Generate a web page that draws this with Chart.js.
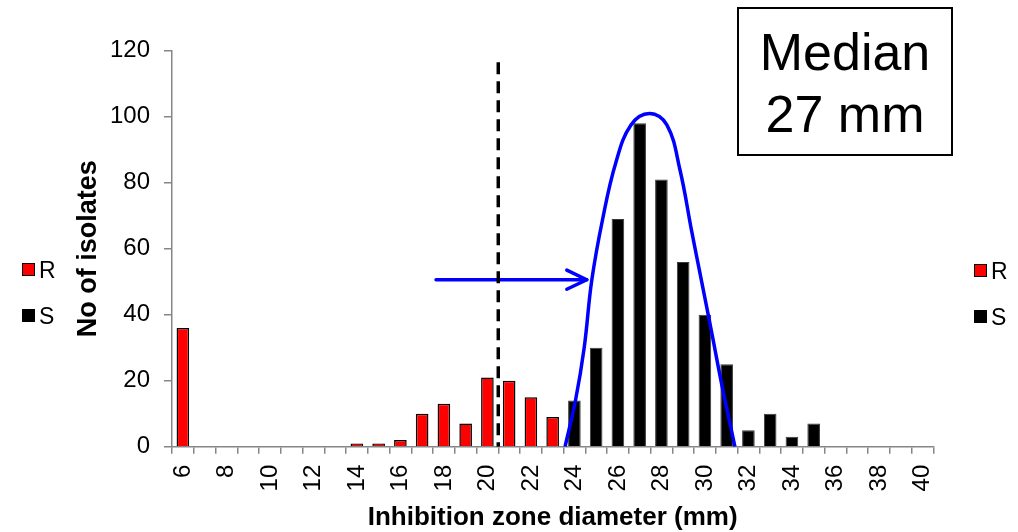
<!DOCTYPE html>
<html><head><meta charset="utf-8">
<script src="https://cdn.jsdelivr.net/npm/chart.js@4.4.1/dist/chart.umd.min.js"></script>
<style>
html,body{margin:0;padding:0;background:#fff;}
#wrap{position:relative;width:1018px;height:532px;font-family:'Liberation Sans',Arial,sans-serif;overflow:hidden;}
#wrap canvas{position:absolute;left:0;top:0;}
.legend{position:absolute;width:50px;height:80px;font-size:23px;color:#000;}
.legend .item{position:absolute;left:0;height:26px;line-height:26px;white-space:nowrap;}
.legend .sw{position:absolute;left:0;top:6px;width:13px;height:13px;box-sizing:border-box;}
.legend .lbl{position:absolute;left:17px;top:0;}
#median{position:absolute;left:737px;top:7px;width:216px;height:149px;box-sizing:border-box;border:2px solid #000;background:#fff;text-align:center;font-size:52px;line-height:62px;padding-top:12px;color:#000;}
</style></head>
<body>
<div id="wrap">
  <canvas id="chart" width="1018" height="532"></canvas>
  <div class="legend" id="legendLeft" style="left:22px;top:257px;"></div>
  <div class="legend" id="legendRight" style="left:974px;top:258px;"></div>
  <div id="median">Median<br>27 mm</div>
</div>
<script>
// ---- data ----
const diameters = ['6','7','8','9','10','11','12','13','14','15','16','17','18','19','20','21','22','23','24','25','26','27','28','29','30','31','32','33','34','35','36','37','38','39','40'];
const xTickLabels = ['6','8','10','12','14','16','18','20','22','24','26','28','30','32','34','36','38','40'];
const resistantCounts = [36,null,null,null,null,null,null,null,1,1,2,10,13,7,21,20,15,9,null,null,null,null,null,null,null,null,null,null,null,null,null,null,null,null,null];
const susceptibleCounts = [null,null,null,null,null,null,null,null,null,null,null,null,null,null,null,null,null,null,14,30,69,98,81,56,40,25,5,10,3,7,null,null,null,null,null];
const seriesLabels = ['R','S'];
const curveDiameters = [23.57,24.05,24.45,24.80,25.30,25.90,26.60,27.45,28.25,28.85,29.40,29.85,30.30,30.80,31.38];
const curveCounts = [0,14,30,50.5,69,86,97.5,101,97.5,84,65,50,35,18,0];
const breakpointDiameters = [20.5,20.5];
const breakpointCounts = [116.5,0];
const arrowDiameters = [17.64,24.57];
const arrowCounts = [50.6,50.6];
const arrowHeadDiameters = [23.65,24.57,23.65];
const arrowHeadCounts = [53.5,50.6,47.7];

const FONT = "'Liberation Sans', Arial, sans-serif";
const AXIS_GREY = '#868686';
const pts = (xs, ys) => xs.map((x,i)=>({x:x, y:ys[i]}));

const lineBase = {type:'line', xAxisID:'x2', yAxisID:'y', pointRadius:0, fill:false, order:1};

const chart = new Chart(document.getElementById('chart'), {
  type:'bar',
  data:{
    labels: diameters,
    datasets:[
      {label:seriesLabels[0], data:resistantCounts, backgroundColor:'#FF0000', borderColor:'#000000', borderWidth:1.5, order:2},
      {label:seriesLabels[1], data:susceptibleCounts, backgroundColor:'#000000', borderColor:'#3a3a3a', borderWidth:1, order:2},
      Object.assign({}, lineBase, {label:'curve', data:pts(curveDiameters, curveCounts), borderColor:'#0000FF', borderWidth:3.5, tension:0.4, borderJoinStyle:'round'}),
      Object.assign({}, lineBase, {label:'breakpoint', data:pts(breakpointDiameters, breakpointCounts), borderColor:'#000000', borderWidth:3.5, borderDash:[12,7], borderCapStyle:'butt'}),
      Object.assign({}, lineBase, {label:'arrow', data:pts(arrowDiameters, arrowCounts), borderColor:'#0000FF', borderWidth:3.5, borderCapStyle:'round'}),
      Object.assign({}, lineBase, {label:'arrowhead', data:pts(arrowHeadDiameters, arrowHeadCounts), borderColor:'#0000FF', borderWidth:3.5, borderCapStyle:'round', borderJoinStyle:'round'})
    ]
  },
  options:{
    responsive:false,
    devicePixelRatio:1,
    animation:false,
    layout:{padding:{top:50.7, right:84.7, bottom:0, left:0}},
    datasets:{bar:{grouped:false, categoryPercentage:1, barPercentage:0.58}},
    plugins:{legend:{display:false}, tooltip:{enabled:false}},
    scales:{
      x:{
        type:'category', offset:true,
        grid:{display:true, drawOnChartArea:false, drawTicks:true, tickLength:7, color:AXIS_GREY, lineWidth:1.5, offset:true},
        border:{display:true, color:AXIS_GREY, width:1.5},
        ticks:{autoSkip:false, maxRotation:90, minRotation:90, padding:11, color:'#000', font:{family:FONT, size:24},
          callback:function(v, i){ const l = this.getLabelForValue(v); return xTickLabels.includes(l) ? l : ''; }},
        title:{display:true, text:'Inhibition zone diameter (mm)', color:'#000', font:{family:FONT, size:26, weight:'bold', lineHeight:1.1}, padding:{top:0,bottom:0}},
        afterFit:(s)=>{ s.height = 85.3; }
      },
      x2:{type:'linear', display:false, min:5.5, max:40.5, offset:false, bounds:'ticks', grace:0},
      y:{
        min:0, max:120,
        grid:{display:true, drawOnChartArea:false, drawTicks:true, tickLength:8, color:AXIS_GREY, lineWidth:1.5},
        border:{display:true, color:AXIS_GREY, width:1.5},
        ticks:{stepSize:20, padding:14, color:'#000', font:{family:FONT, size:24}},
        title:{display:true, text:'No of isolates', color:'#000', font:{family:FONT, size:27, weight:'bold', lineHeight:1.2}, padding:{top:72, bottom:0}},
        afterFit:(s)=>{ s.width = 172; }
      }
    }
  }
});

// HTML legends built from the chart's own datasets
function buildLegend(el){
  chart.data.datasets.slice(0,2).forEach((ds, i)=>{
    const item = document.createElement('div');
    item.className = 'item';
    item.style.top = (i*45.5) + 'px';
    const sw = document.createElement('span');
    sw.className = 'sw';
    sw.style.background = ds.backgroundColor;
    sw.style.border = '1px solid #000';
    const lbl = document.createElement('span');
    lbl.className = 'lbl';
    lbl.textContent = ds.label;
    item.appendChild(sw); item.appendChild(lbl);
    el.appendChild(item);
  });
}
buildLegend(document.getElementById('legendLeft'));
buildLegend(document.getElementById('legendRight'));
</script>
</body></html>
